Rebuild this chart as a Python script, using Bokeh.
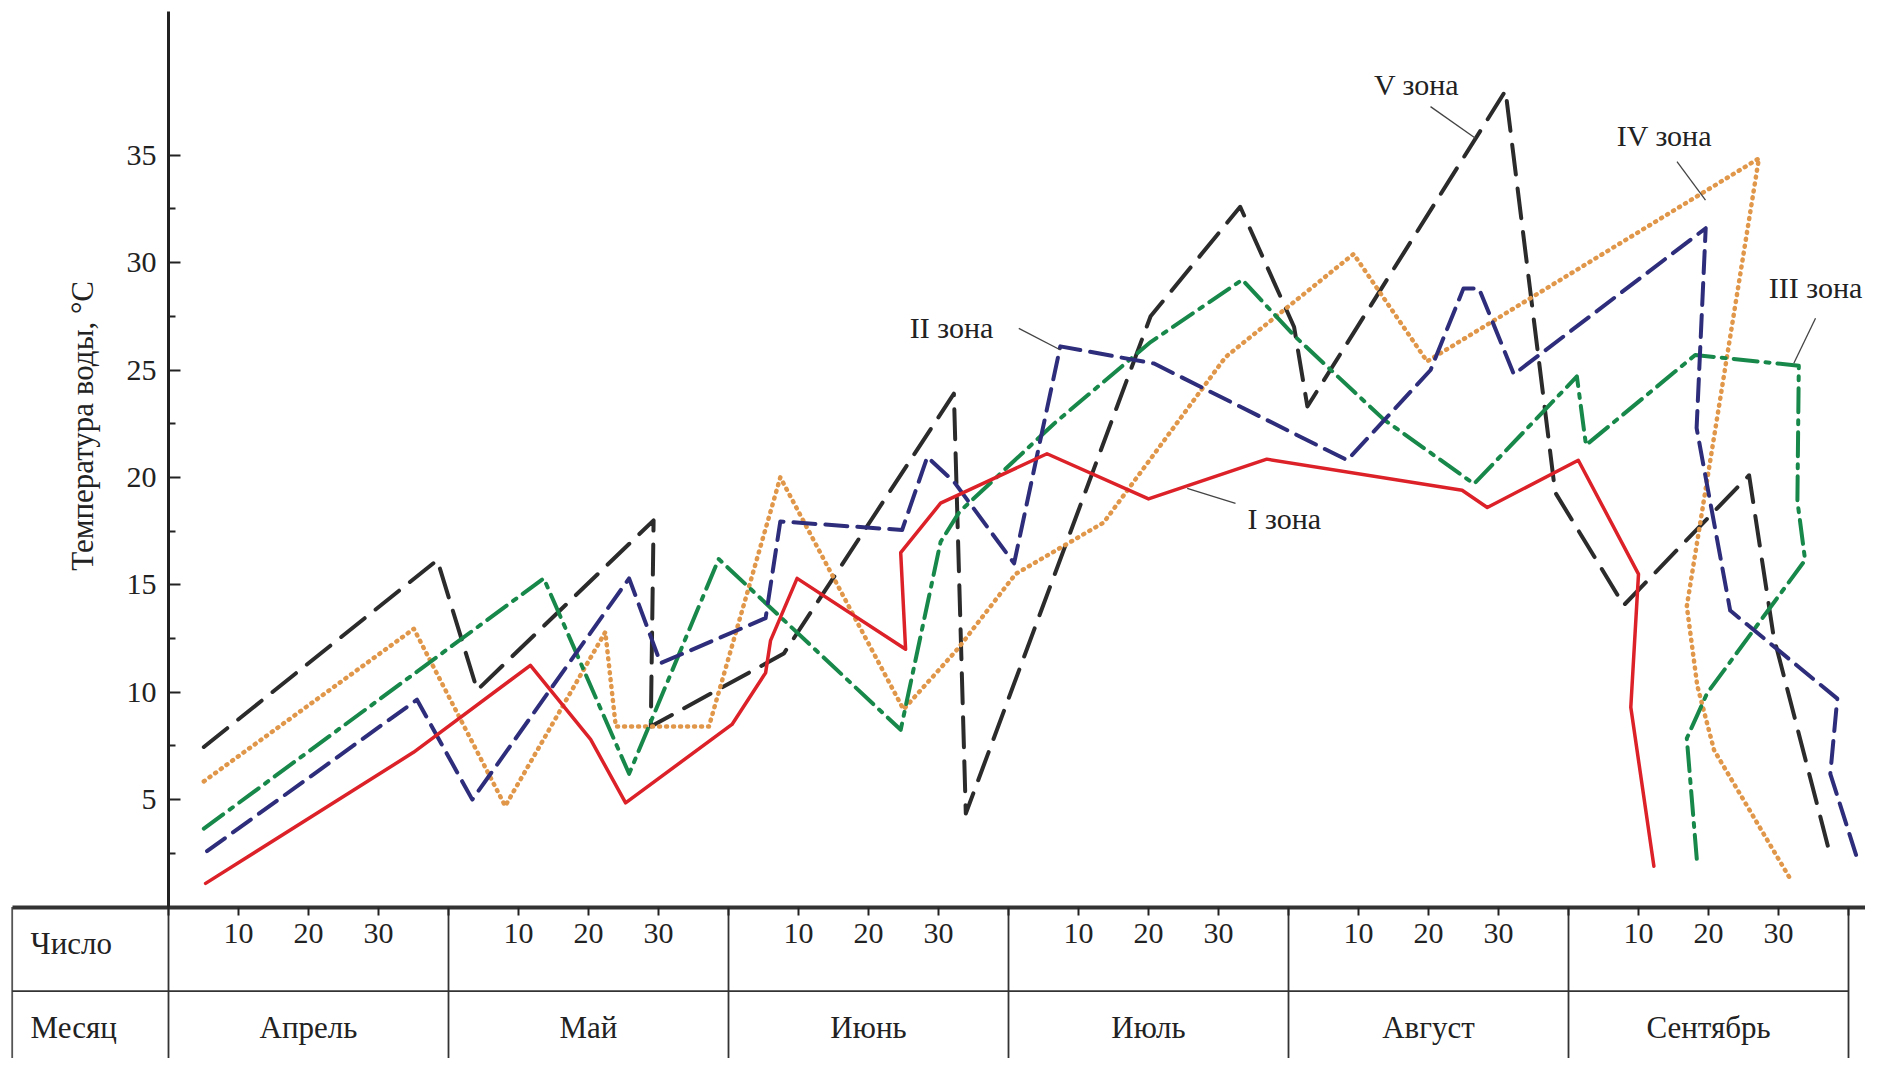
import numpy as np
from bokeh.plotting import figure
from bokeh.models import Range1d, FixedTicker
from bokeh.core.properties import value
from bokeh.embed import file_html
from bokeh.resources import INLINE

# ---------------- data ----------------
# x is the chart's own day scale: each month is a 40-unit block (month_index*40 + day),
# with day ticks 10, 20, 30 inside each block.
months = ["Апрель", "Май", "Июнь", "Июль", "Август", "Сентябрь"]
day_ticks = [10, 20, 30]
y_ticks = [5, 10, 15, 20, 25, 30, 35]
y_minor_ticks = [2.5, 7.5, 12.5, 17.5, 22.5, 27.5, 32.5]
y_title = "Температура воды, °С"
row_titles = ["Число", "Месяц"]

zone_names = ["I зона", "II зона", "III зона", "IV зона", "V зона"]

x_I = [5.3, 35.0, 51.7, 60.3, 65.3, 80.5, 85.3, 86.0, 89.8, 105.3, 104.6, 110.3, 125.5,
       140.0, 156.9, 184.8, 188.4, 201.4, 210.0, 208.9, 212.2]
t_I = [1.1, 7.2, 11.25, 7.8, 4.85, 8.5, 10.9, 12.4, 15.3, 12.0, 16.5, 18.8, 21.1,
       19.0, 20.85, 19.4, 18.6, 20.8, 15.5, 9.3, 1.9]

x_II = [5.5, 35.5, 43.4, 65.8, 70.3, 85.3, 87.4, 104.8, 108.4, 112.2, 120.8, 127.4, 140.8,
        168.4, 180.3, 185.0, 187.2, 192.2, 219.6, 218.3, 223.1, 238.4, 237.4, 241.2]
t_II = [2.6, 9.65, 5.0, 15.3, 11.35, 13.45, 17.95, 17.55, 20.95, 19.8, 16.0, 26.1, 25.3,
        20.8, 25.0, 28.8, 28.8, 24.8, 31.6, 22.3, 13.8, 9.7, 6.2, 2.3]

x_III = [5.05, 53.6, 65.8, 78.6, 104.6, 110.3, 113.0, 126.5, 140.3, 153.4, 160.8, 173.6,
         186.5, 201.2, 202.5, 218.1, 232.9, 232.7, 233.8, 219.8, 216.9, 218.4]
t_III = [3.65, 15.3, 6.2, 16.2, 8.25, 17.0, 18.4, 22.5, 26.3, 29.2, 26.6, 22.7,
         19.7, 24.7, 21.5, 25.7, 25.2, 18.9, 16.15, 9.95, 7.85, 1.95]

x_IV = [5.05, 35.05, 48.1, 62.4, 63.9, 77.2, 87.4, 105.0, 112.7, 121.0, 133.6, 151.0,
        169.3, 179.8, 227.2, 216.9, 218.4, 220.8, 231.7]
t_IV = [5.85, 12.95, 4.7, 12.8, 8.4, 8.4, 20.0, 9.2, 12.0, 15.5, 17.9, 25.6,
        30.4, 25.4, 34.85, 14.0, 10.3, 7.3, 1.3]

x_V = [5.05, 38.4, 44.1, 69.3, 68.9, 87.9, 112.2, 113.9, 140.3, 153.1, 160.8, 162.7,
       191.0, 198.1, 207.9, 225.8, 229.3, 237.4]
t_V = [7.45, 16.15, 10.1, 18.0, 8.4, 11.8, 23.9, 4.35, 27.5, 32.6, 27.0, 23.3,
       38.0, 19.3, 14.05, 20.1, 12.6, 2.4]

# ---------------- layout constants ----------------
W, H = 1865, 1058
PX_PER_X = 7.0          # px per chart-day unit
PX_PER_Y = 21.48        # px per degree
X0_PX, Y0_PX = 168.0, 906.5   # canvas px of (0, 0)

x_start = -X0_PX / PX_PER_X
x_end = (W - X0_PX) / PX_PER_X
y_start = -(H - Y0_PX) / PX_PER_Y
y_end = Y0_PX / PX_PER_Y
table_left = -22.33

FONT = "Liberation Serif"
INK = "#222222"

p = figure(width=W, height=H, x_range=Range1d(x_start, x_end), y_range=Range1d(y_start, y_end),
           output_backend="svg", toolbar_location=None, min_border=0)
p.outline_line_color = None
p.xgrid.grid_line_color = None
p.ygrid.grid_line_color = None
p.background_fill_color = "white"
p.border_fill_color = "white"

# y axis at x = 0
ya = p.yaxis[0]
ya.fixed_location = 0
ya.bounds = (0, 41.67)
ya.ticker = FixedTicker(ticks=y_ticks, minor_ticks=y_minor_ticks)
ya.axis_line_width = 3
ya.axis_line_color = INK
ya.major_tick_in = 12
ya.major_tick_out = 0
ya.minor_tick_in = 7
ya.minor_tick_out = 0
ya.major_tick_line_width = 2
ya.minor_tick_line_width = 2
ya.major_tick_line_color = INK
ya.minor_tick_line_color = INK
ya.major_label_standoff = 12
ya.major_label_text_font = FONT
ya.major_label_text_font_size = "30px"
ya.major_label_text_color = INK

# x axis at y = 0 (top line of the table)
n_m = len(months)
x_tick_pos = [m * 40 + d for m in range(n_m) for d in [0] + day_ticks] + [n_m * 40]
overrides = {}
for m in range(n_m):
    overrides[m * 40] = ""
    for d in day_ticks:
        overrides[m * 40 + d] = str(d)
overrides[n_m * 40] = ""
xa = p.xaxis[0]
xa.fixed_location = 0
xa.bounds = (table_left, x_end)
xa.ticker = FixedTicker(ticks=x_tick_pos, minor_ticks=[])
xa.major_label_overrides = overrides
xa.axis_line_width = 4
xa.axis_line_color = "#333333"
xa.major_tick_in = 0
xa.major_tick_out = 8
xa.major_tick_line_width = 2
xa.major_tick_line_color = INK
xa.major_label_standoff = 9
xa.major_label_text_font = FONT
xa.major_label_text_font_size = "30px"
xa.major_label_text_color = INK

# table grid
sep_x = [m * 40 for m in range(n_m + 1)]
p.segment(x0=sep_x, y0=[0] * len(sep_x), x1=sep_x, y1=[y_start] * len(sep_x),
          line_color="#333333", line_width=1.8)
p.segment(x0=[table_left], y0=[0], x1=[table_left], y1=[y_start],
          line_color="#555555", line_width=1.8)
row_line_y = -3.92
p.segment(x0=[table_left], y0=[row_line_y], x1=[n_m * 40], y1=[row_line_y],
          line_color="#333333", line_width=1.8)

# table texts
p.text(x=[-19.7], y=[-1.72], text=[row_titles[0]], text_font=value(FONT), text_font_size="31px",
       text_align="left", text_baseline="middle", text_color=INK)
p.text(x=[-19.7], y=[-5.62], text=[row_titles[1]], text_font=value(FONT), text_font_size="31px",
       text_align="left", text_baseline="middle", text_color=INK)
p.text(x=[m * 40 + 20 for m in range(n_m)], y=[-5.62] * n_m, text=months, text_font=value(FONT),
       text_font_size="31px", text_align="center", text_baseline="middle", text_color=INK)

# y title
p.text(x=[-12.3], y=[22.4], text=[y_title], angle=np.pi / 2, text_font=value(FONT),
       text_font_size="31px", text_align="center", text_baseline="middle", text_color=INK)

# series
series = [
    (x_V, t_V, "#2b2b2b", 4, "30 14"),
    (x_IV, t_IV, "#e0974a", 4.5, "1 6"),
    (x_III, t_III, "#17884a", 4, "24 8 4 8"),
    (x_II, t_II, "#2d2d7c", 4, "22 10"),
    (x_I, t_I, "#dc2129", 3.5, "solid"),
]
for xs, ts, col, lw, dash in series:
    p.line(xs, ts, line_color=col, line_width=lw, line_dash=dash, line_cap="round", line_join="round")

# zone labels with leader lines
lab_x = [159.4, 111.86, 235.3, 213.7, 178.3]
lab_y = [18.1, 26.96, 28.86, 35.94, 38.31]
p.text(x=lab_x, y=lab_y, text=zone_names, text_font=value(FONT), text_font_size="30px",
       text_align="center", text_baseline="middle", text_color=INK)
lead_x0 = [145.53, 121.47, 235.29, 215.5, 180.29]
lead_y0 = [19.49, 26.94, 27.41, 34.70, 37.26]
lead_x1 = [152.43, 127.43, 232.19, 219.57, 186.71]
lead_y1 = [18.79, 25.93, 25.31, 32.91, 35.79]
p.segment(x0=lead_x0, y0=lead_y0, x1=lead_x1, y1=lead_y1, line_color="#444444", line_width=1.3)

open("out.html", "w").write(file_html(p, INLINE))
